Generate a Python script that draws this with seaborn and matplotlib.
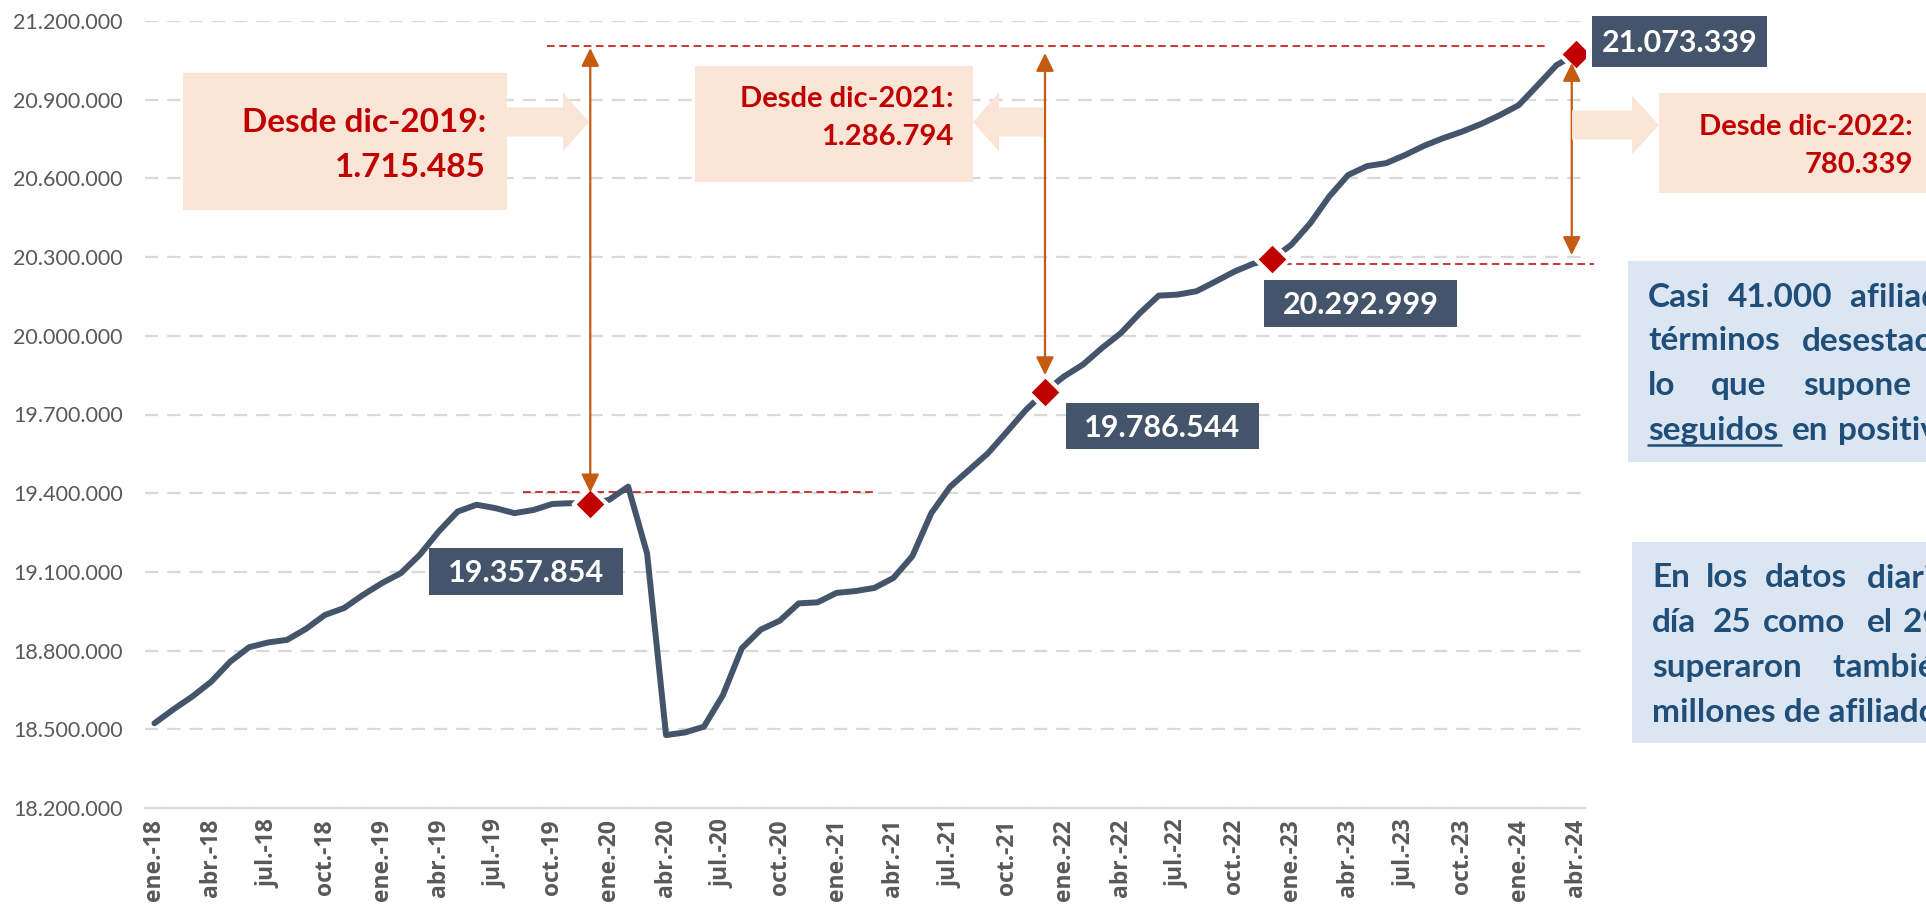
import matplotlib
matplotlib.use("Agg")
import matplotlib.pyplot as plt
import matplotlib.patches as mpatches
import seaborn as sns
import pandas as pd

# afiliados medios (desestacionalizados), ene-2018 .. abr-2024
afiliados = [
    18523000, 18576000, 18625000, 18682000, 18758000, 18813000,
    18831000, 18841000, 18883000, 18936000, 18962000, 19012000,
    19057000, 19095000, 19165000, 19254000, 19330000, 19356000,
    19343000, 19324000, 19336000, 19359000, 19362000, 19357854,
    19375000, 19425000, 19170000, 18478000, 18488000, 18510000,
    18630000, 18809000, 18880000, 18914000, 18980000, 18984000,
    19020000, 19027000, 19039000, 19077000, 19160000, 19324000,
    19425000, 19489000, 19553000, 19635000, 19718000, 19786544,
    19845000, 19890000, 19953000, 20010000, 20086000, 20153000,
    20157000, 20170000, 20207000, 20245000, 20275000, 20292999,
    20347000, 20429000, 20531000, 20613000, 20647000, 20658000,
    20689000, 20724000, 20753000, 20778000, 20807000, 20841000,
    20879000, 20955000, 21032000, 21073339,
]
tick_labels = [
    "ene.-18", "abr.-18", "jul.-18", "oct.-18", "ene.-19", "abr.-19",
    "jul.-19", "oct.-19", "ene.-20", "abr.-20", "jul.-20", "oct.-20",
    "ene.-21", "abr.-21", "jul.-21", "oct.-21", "ene.-22", "abr.-22",
    "jul.-22", "oct.-22", "ene.-23", "abr.-23", "jul.-23", "oct.-23",
    "ene.-24", "abr.-24",
]
destacados = [23, 47, 59, 75]  # dic-19, dic-21, dic-22, abr-24
desde_labels = ["Desde dic-2019:", "Desde dic-2021:", "Desde dic-2022:"]
desde_vals = [1715485, 1286794, 780339]
y_ticks = [18200000, 18500000, 18800000, 19100000, 19400000, 19700000,
           20000000, 20300000, 20600000, 20900000, 21200000]

LINE = "#44546A"
RED = "#C00000"
ORANGE = "#C55A11"
PEACH = "#FBE5D6"
BLUEBOX = "#DCE6F2"
BLUETXT = "#1F4E79"
GRAY = "#595959"
GRID = "#D9D9D9"

sns.set_style("white")
plt.rcParams["font.family"] = ["Lato", "DejaVu Sans"]

W, H = 1926, 910


def fxy(x, y):
    return x / W, 1 - y / H


def fmt(v):
    return f"{v:,.0f}".replace(",", ".")


df = pd.DataFrame({"mes": range(len(afiliados)), "afiliados": afiliados})
hl = df.iloc[destacados]

fig = plt.figure(figsize=(W / 100, H / 100), dpi=100)
ax = fig.add_axes([145 / W, 1 - 808 / H, (1585 - 145) / W, (808 - 21) / H])

sns.lineplot(data=df, x="mes", y="afiliados", ax=ax, color=LINE,
             linewidth=4.3, solid_joinstyle="round", solid_capstyle="round", zorder=3)
sns.scatterplot(data=hl, x="mes", y="afiliados", ax=ax, marker="D", s=290,
                color=RED, edgecolor="white", linewidth=3, zorder=4)

ax.set_xlim(-0.5, len(afiliados) - 0.5)
ax.set_ylim(y_ticks[0], y_ticks[-1])
ax.set_yticks(y_ticks)
ax.set_yticklabels([fmt(v) for v in y_ticks], fontsize=15.5, color=GRAY)
ax.set_xticks(range(0, len(afiliados), 3))
ax.set_xticklabels(tick_labels, rotation=90, fontsize=16.5, fontweight="bold",
                   color=GRAY, family=["Open Sans", "DejaVu Sans"])
ax.set_xticks([i - 0.5 for i in range(0, len(afiliados), 3)], minor=True)
ax.tick_params(axis="x", which="major", length=0, pad=8)
ax.tick_params(axis="x", which="minor", length=7, width=1.5, color=GRID)
ax.tick_params(axis="y", length=0, pad=16)
ax.set_xlabel("")
ax.set_ylabel("")
ax.yaxis.grid(True, linestyle=(0, (6, 4)), color=GRID, linewidth=1.6)
ax.set_axisbelow(True)
for s in ["left", "top", "right"]:
    ax.spines[s].set_visible(False)
ax.spines["bottom"].set_color(GRID)
ax.spines["bottom"].set_linewidth(1.6)

# líneas de referencia rojas
ax.plot([20.7, 73.5], [21105000, 21105000], color=RED, lw=1.1,
        linestyle=(0, (5, 3)), zorder=2)
ax.plot([19.45, 38.0], [19403000, 19403000], color=RED, lw=1.1,
        linestyle=(0, (5, 3)), zorder=2)
ax.plot([59.6, 76.0], [20274000, 20274000], color=RED, lw=1.1,
        linestyle=(0, (5, 3)), zorder=2, clip_on=False)

# flechas verticales
arr = dict(arrowstyle="<|-|>,head_length=0.55,head_width=0.27",
           color=ORANGE, lw=1.6, shrinkA=0, shrinkB=0, mutation_scale=20)
for x, y0, y1 in [(23, 21097000, 19403000), (47, 21078000, 19850000),
                  (74.8, 21040000, 20308000)]:
    ax.annotate("", xy=(x, y0), xytext=(x, y1), arrowprops=arr,
                annotation_clip=False, zorder=5)


def rect(x0, y0, x1, y1, color):
    fig.add_artist(mpatches.Rectangle(fxy(x0, y1), (x1 - x0) / W, (y1 - y0) / H,
                                      transform=fig.transFigure, facecolor=color,
                                      edgecolor="none", zorder=6))


def block_arrow(x_from, x_tip, yc, shaft, head, head_len):
    d = 1 if x_tip > x_from else -1
    base = x_tip - d * head_len
    pts = [(x_from, yc - shaft / 2), (base, yc - shaft / 2), (base, yc - head / 2),
           (x_tip, yc), (base, yc + head / 2), (base, yc + shaft / 2),
           (x_from, yc + shaft / 2)]
    fig.add_artist(mpatches.Polygon([fxy(*p) for p in pts], closed=True,
                                    transform=fig.transFigure, facecolor=PEACH,
                                    edgecolor="none", zorder=6))


# cajas "Desde ..."
cajas = [
    ((183, 73, 507, 210), 486, (132, 177), 24, (507, 589, 122, 26)),
    ((695, 66, 973, 182), 953, (107, 145), 21, (1044, 973, 122, 26)),
    ((1659, 93, 1940, 193), 1913, (135, 173), 21, (1572, 1659, 125, 27)),
]
for (bx, tx, (b1, b2), fs, (a0, a1, ay, hl_)), lab, val in zip(cajas, desde_labels, desde_vals):
    rect(*bx, PEACH)
    block_arrow(a0, a1, ay, 29, 59, hl_)
    fig.text(*fxy(tx, b1), lab, ha="right", va="baseline", fontsize=fs,
             fontweight="bold", color=RED, zorder=7)
    fig.text(*fxy(tx, b2), fmt(val), ha="right", va="baseline", fontsize=fs,
             fontweight="bold", color=RED, zorder=7)

# etiquetas de valor
etiquetas = [(429, 548, 623, 595), (1066, 403, 1259, 449),
             (1264, 280, 1457, 327), (1592, 16, 1767, 67)]
for (x0, y0, x1, y1), v in zip(etiquetas, hl["afiliados"]):
    rect(x0, y0, x1, y1, LINE)
    fig.text(*fxy((x0 + x1) / 2, (y0 + y1) / 2 + 11), fmt(v), ha="center",
             va="baseline", fontsize=22, fontweight="bold", color="white", zorder=7)

# cuadros de texto de la derecha (recortados por el borde, como en el original)
rect(1628, 261, 1940, 462, BLUEBOX)
rect(1632, 542, 1940, 743, BLUEBOX)
texto1 = [
    (307, [("Casi", 1648), ("41.000", 1728), ("afiliados más en", 1850)]),
    (350, [("términos", 1648), ("desestacionalizados,", 1802)]),
    (395, [("lo", 1648), ("que", 1711), ("supone", 1803), ("seis meses", 1935)]),
    (440, [("seguidos", 1648), ("en", 1792), ("positivo.", 1838)]),
]
texto2 = [
    (587, [("En", 1652), ("los", 1706), ("datos", 1765), ("diarios, tanto el", 1867)]),
    (632, [("día", 1652), ("25", 1713), ("como", 1763), ("el", 1867), ("29 de abril", 1903)]),
    (677, [("superaron", 1652), ("también los 21", 1833)]),
    (722, [("millones de afiliados.", 1652)]),
]
for base, words in texto1 + texto2:
    for w, x in words:
        fig.text(*fxy(x, base), w, ha="left", va="baseline", fontsize=24,
                 fontweight="bold", color=BLUETXT, zorder=7)
fig.add_artist(plt.Line2D([1648 / W, 1781 / W], [1 - 445 / H, 1 - 445 / H],
                          transform=fig.transFigure, color=BLUETXT, lw=1.8, zorder=7))

fig.savefig("out.png", dpi=100)
